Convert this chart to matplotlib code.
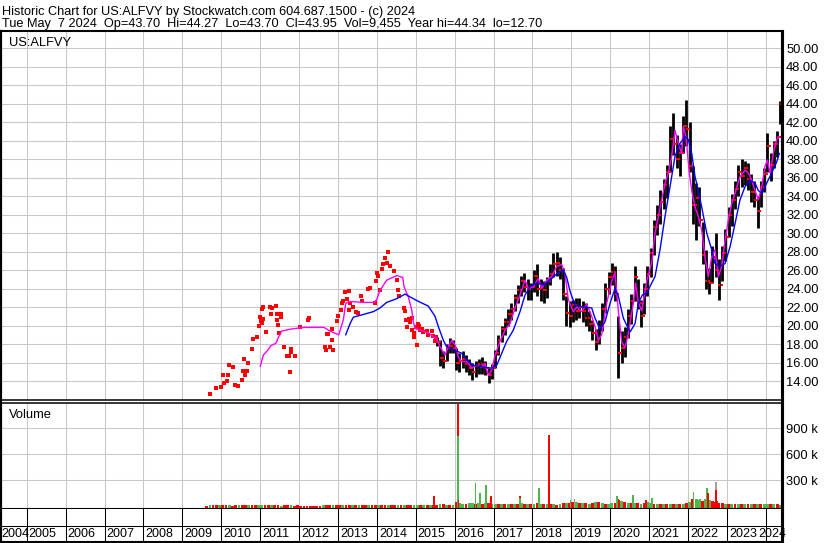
import numpy as np
import matplotlib.pyplot as plt
from matplotlib.lines import Line2D
from matplotlib import transforms

plt.rcParams['font.family'] = ['Liberation Sans', 'DejaVu Sans']

W, H = 830, 543

title_line = 'Historic Chart for US:ALFVY by Stockwatch.com 604.687.1500 - (c) 2024'
quote_line = 'Tue May  7 2024  Op=43.70  Hi=44.27  Lo=43.70  Cl=43.95  Vol=9,455  Year hi=44.34  lo=12.70'
symbol = 'US:ALFVY'

year_labels = ['2004', '2005', '2006', '2007', '2008', '2009', '2010', '2011', '2012', '2013', '2014',
               '2015', '2016', '2017', '2018', '2019', '2020', '2021', '2022', '2023', '2024']
year_lines = [2005, 2006, 2007, 2008, 2009, 2010, 2011, 2012, 2013, 2014,
              2015, 2016, 2017, 2018, 2019, 2020, 2021, 2022, 2023, 2024]
price_ticks = [14, 16, 18, 20, 22, 24, 26, 28, 30, 32, 34, 36, 38, 40, 42, 44, 46, 48, 50]
vol_ticks = [300000, 600000, 900000]
vol_tick_labels = ['300 k', '600 k', '900 k']

# thin trading before mid 2015: single prints (decimal year, price)
early_year = [2009.712, 2009.866, 2009.987, 2010.039, 2010.072, 2010.141, 2010.175, 2010.201, 2010.296, 2010.355,
              2010.432, 2010.527, 2010.553, 2010.578, 2010.612, 2010.656, 2010.681, 2010.800, 2010.810, 2010.913,
              2010.972, 2010.998, 2011.015, 2011.049, 2011.049, 2011.075, 2011.075, 2011.144, 2011.255, 2011.272,
              2011.306, 2011.409, 2011.434, 2011.434, 2011.452, 2011.486, 2011.530, 2011.540, 2011.614, 2011.699,
              2011.735, 2011.761, 2011.794, 2011.800, 2011.897, 2012.026, 2012.224, 2012.257, 2012.668, 2012.686,
              2012.712, 2012.745, 2012.797, 2012.848, 2012.856, 2012.874, 2012.977, 2012.995, 2013.072, 2013.098,
              2013.139, 2013.183, 2013.234, 2013.285, 2013.290, 2013.311, 2013.396, 2013.465, 2013.509, 2013.594,
              2013.627, 2013.781, 2013.817, 2013.954, 2013.987, 2013.997, 2014.023, 2014.075, 2014.141, 2014.167,
              2014.211, 2014.254, 2014.296, 2014.332, 2014.450, 2014.512, 2014.553, 2014.571, 2014.699, 2014.725,
              2014.758, 2014.784, 2014.828, 2014.853, 2014.892, 2014.913, 2014.956, 2014.964, 2015.008, 2015.033,
              2015.059, 2015.085, 2015.111, 2015.154, 2015.188, 2015.283, 2015.316, 2015.411, 2015.445, 2015.496,
              2015.522]
early_price = [12.6, 13.2, 13.4, 14.6, 13.8, 14.0, 14.7, 15.7, 15.5, 13.6,
               13.5, 14.1, 15.1, 16.4, 14.6, 15.1, 16.0, 17.5, 18.5, 18.8,
               20.0, 20.9, 20.5, 20.3, 21.8, 20.7, 22.0, 19.3, 22.0, 21.2,
               21.9, 22.1, 21.2, 20.6, 20.1, 19.2, 21.2, 20.9, 17.7, 16.7,
               16.7, 15.0, 17.5, 17.1, 16.7, 19.8, 20.6, 20.8, 17.7, 17.4,
               19.1, 19.1, 17.7, 18.4, 19.6, 17.4, 20.5, 21.0, 21.7, 22.4,
               22.7, 23.6, 22.9, 23.7, 21.7, 22.4, 22.0, 21.5, 21.4, 23.2,
               22.6, 23.9, 24.1, 22.4, 24.8, 25.7, 25.4, 23.8, 26.1, 26.6,
               27.3, 26.8, 28.0, 26.4, 25.9, 24.9, 23.8, 23.2, 21.9, 21.6,
               20.6, 19.8, 20.7, 20.4, 20.8, 19.5, 18.8, 19.2, 19.8, 17.9,
               20.2, 19.9, 19.5, 19.6, 19.3, 19.4, 19.0, 19.4, 18.9, 18.3,
               18.8]

# monthly ranges from Jul 2015
bar_start = (2015, 7)
bar_low = [17.8, 15.6, 15.4, 16.2, 17.0, 17.0,
           15.2, 15.0, 15.4, 15.0, 14.6, 14.1, 14.4, 14.8, 14.8, 14.6, 13.8, 14.2,
           15.4, 16.8, 18.2, 19.0, 20.0, 20.6, 21.6, 22.4, 23.2, 23.6, 22.8, 22.8,
           23.6, 23.2, 22.6, 22.4, 23.0, 24.4, 25.2, 25.4, 25.0, 22.8, 20.0, 19.8,
           20.4, 20.6, 20.8, 20.4, 20.0, 19.4, 18.4, 17.4, 18.0, 19.4, 21.4, 23.4,
           24.4, 22.6, 14.3, 16.0, 16.6, 18.6, 20.2, 22.6, 21.8, 19.8, 21.2, 23.2,
           25.2, 27.6, 29.8, 31.0, 32.6, 33.8, 36.6, 38.4, 37.0, 36.2, 38.6, 39.4,
           36.6, 31.0, 29.2, 30.8, 26.6, 24.0, 23.4, 24.6, 25.2, 22.8, 24.8, 27.0,
           29.6, 30.8, 32.6, 34.0, 35.0, 35.2, 34.6, 33.4, 32.8, 30.5, 32.8, 34.4,
           36.6, 35.6, 37.0, 38.2, 41.8]
bar_high = [18.8, 18.4, 17.2, 18.0, 18.6, 18.4,
            17.6, 17.0, 17.2, 16.8, 16.4, 16.0, 16.2, 16.4, 16.6, 16.2, 15.4, 15.8,
            17.4, 19.0, 20.0, 20.8, 21.8, 22.4, 23.4, 24.4, 25.4, 25.7, 25.0, 24.6,
            26.0, 26.6, 25.0, 24.8, 25.2, 26.6, 27.8, 28.0, 27.4, 26.2, 23.2, 22.6,
            22.8, 23.0, 23.0, 22.6, 22.4, 21.6, 20.6, 19.6, 20.6, 22.4, 24.6, 25.8,
            26.8, 26.4, 21.0, 19.4, 19.8, 21.8, 23.4, 26.4, 25.0, 22.8, 24.6, 26.4,
            28.4, 31.4, 33.0, 34.6, 35.8, 37.4, 41.6, 43.0, 40.6, 39.6, 42.6, 44.4,
            42.0, 37.2, 35.4, 35.0, 31.2, 28.2, 26.2, 28.6, 30.0, 27.2, 28.6, 30.4,
            32.8, 34.2, 35.6, 37.4, 38.0, 37.8, 37.6, 36.4, 35.6, 34.0, 35.6, 37.0,
            40.8, 38.6, 40.0, 41.0, 44.3]
bar_close = [18.2, 16.5, 16.2, 17.6, 17.8, 17.6,
             16.0, 16.2, 16.4, 15.8, 15.4, 15.0, 15.6, 15.8, 15.6, 15.4, 14.6, 15.4,
             17.0, 18.4, 19.6, 20.4, 21.2, 21.8, 23.0, 23.8, 24.8, 24.2, 24.0, 24.2,
             25.4, 24.0, 24.4, 23.8, 24.8, 25.6, 26.6, 26.8, 26.0, 23.4, 21.4, 21.0,
             22.2, 21.6, 22.0, 21.6, 20.8, 20.2, 19.2, 18.2, 19.8, 21.8, 24.0, 25.2,
             25.8, 23.4, 17.0, 17.6, 18.8, 21.0, 22.6, 25.2, 22.4, 21.0, 24.0, 25.6,
             27.8, 30.6, 32.0, 33.4, 35.2, 36.6, 40.2, 39.6, 38.0, 38.6, 41.6, 41.2,
             37.2, 33.0, 33.8, 31.4, 27.6, 24.8, 24.6, 27.4, 26.0, 24.4, 27.8, 29.6,
             32.0, 33.6, 34.8, 36.6, 36.2, 37.0, 35.8, 34.4, 33.6, 32.4, 35.0, 36.4,
             39.4, 37.4, 39.6, 40.4, 43.95]

# short moving average (magenta)
ma_short_year = [2011.005, 2011.082, 2011.211, 2011.272, 2011.409, 2011.478, 2011.555, 2011.769, 2011.941,
                 2012.136, 2012.643, 2012.797,
                 2013.021, 2013.139, 2013.201, 2013.311, 2013.653, 2013.928, 2013.997,
                 2014.082, 2014.254, 2014.512, 2014.666, 2014.699, 2014.810, 2014.897, 2014.938, 2014.982,
                 2015.111, 2015.324, 2015.453, 2015.540, 2015.625, 2015.669, 2015.753, 2015.838, 2015.925,
                 2016.010, 2016.095, 2016.183, 2016.311, 2016.440, 2016.568, 2016.697, 2016.782, 2016.866, 2016.954,
                 2017.039, 2017.167, 2017.296, 2017.424, 2017.553, 2017.681, 2017.810, 2017.895,
                 2018.023, 2018.152, 2018.239, 2018.368, 2018.496, 2018.625, 2018.753, 2018.838, 2018.923,
                 2019.051, 2019.139, 2019.267, 2019.396, 2019.524, 2019.609, 2019.694, 2019.781, 2019.910,
                 2020.039, 2020.123, 2020.208, 2020.296, 2020.380, 2020.465, 2020.594, 2020.650, 2020.728, 2020.810, 2020.938,
                 2021.067, 2021.152, 2021.237, 2021.324, 2021.409, 2021.494, 2021.581, 2021.666, 2021.751, 2021.838, 2021.879, 2021.949,
                 2022.033, 2022.095, 2022.180, 2022.265, 2022.352, 2022.437, 2022.522, 2022.609, 2022.694, 2022.779, 2022.866, 2022.951,
                 2023.036, 2023.123, 2023.208, 2023.337, 2023.465, 2023.550, 2023.638, 2023.722, 2023.807, 2023.895, 2023.979,
                 2024.039, 2024.108, 2024.211, 2024.280, 2024.347]
ma_short = [15.6, 16.8, 17.4, 17.8, 18.1, 18.8, 19.4, 19.6, 19.7,
            19.8, 19.8, 19.4,
            19.0, 20.6, 22.4, 22.6, 22.5, 22.5, 22.8,
            23.8, 24.9, 25.4, 25.2, 24.2, 23.1, 21.7, 20.4, 19.7,
            19.5, 19.2, 18.8, 18.6, 17.7, 17.4, 16.8, 17.7, 18.4,
            17.9, 16.6, 16.1, 16.1, 15.4, 15.7, 15.5, 15.9, 14.6, 15.2,
            16.8, 18.3, 19.5, 20.2, 21.9, 23.3, 24.9, 24.0,
            24.2, 25.1, 24.0, 24.9, 25.3, 26.4, 26.6, 25.6, 22.8,
            21.5, 22.0, 21.5, 22.3, 21.0, 19.9, 18.4, 19.0, 22.4,
            24.8, 25.7, 21.6, 18.2, 17.6, 19.1, 22.4, 24.6, 22.4, 21.6, 24.8,
            26.8, 30.0, 31.8, 33.6, 35.4, 36.5, 38.3, 41.1, 39.7, 38.6, 41.5, 40.4,
            36.5, 34.6, 32.8, 31.8, 30.3, 27.4, 25.3, 27.4, 28.2, 25.3, 26.4, 29.2,
            31.4, 33.2, 34.3, 36.1, 36.8, 36.5, 35.7, 34.6, 33.6, 35.0, 37.2,
            37.9, 36.5, 39.0, 40.1, 40.4]

# long moving average (blue)
ma_long_year = [2013.201, 2013.311, 2013.396, 2013.568, 2013.910,
                2014.082, 2014.254, 2014.512, 2014.725, 2014.853,
                2015.026, 2015.324, 2015.496, 2015.581, 2015.710, 2015.797, 2015.967,
                2016.183, 2016.311, 2016.481, 2016.738, 2016.954,
                2017.082, 2017.211, 2017.339, 2017.509, 2017.681, 2017.810, 2017.938,
                2018.111, 2018.280, 2018.452, 2018.625, 2018.795, 2018.882, 2018.967,
                2019.095, 2019.309, 2019.524, 2019.609, 2019.738, 2019.866, 2019.995,
                2020.123, 2020.208, 2020.337, 2020.509, 2020.638, 2020.722, 2020.825, 2020.938,
                2021.067, 2021.152, 2021.280, 2021.409, 2021.537, 2021.666, 2021.794, 2021.923,
                2022.008, 2022.095, 2022.180, 2022.265, 2022.352, 2022.481, 2022.609, 2022.694, 2022.822, 2022.951,
                2023.080, 2023.208, 2023.337, 2023.465, 2023.594, 2023.722, 2023.807, 2023.895,
                2024.023, 2024.152, 2024.280, 2024.347]
ma_long = [19.0, 20.2, 20.9, 21.1, 21.5,
           21.9, 22.5, 22.9, 23.4, 23.1,
           22.7, 22.1, 21.0, 19.9, 18.4, 17.7, 17.4,
           17.0, 16.3, 15.7, 15.5, 15.4,
           15.7, 17.0, 18.3, 19.5, 21.5, 23.3, 24.2,
           24.6, 24.4, 24.9, 25.6, 26.0, 25.2, 23.7,
           22.2, 22.0, 21.9, 20.8, 19.6, 20.4, 22.4,
           24.0, 23.2, 20.8, 19.3, 20.2, 22.4, 23.3, 23.5,
           24.6, 25.3, 28.2, 31.8, 35.0, 38.3, 39.7, 40.4,
           40.1, 38.6, 36.1, 34.6, 32.8, 30.0, 28.2, 26.7, 26.4, 26.7,
           28.5, 31.0, 33.6, 35.0, 35.7, 35.4, 34.6, 34.3,
           35.4, 36.5, 37.7, 38.6]

# volume, thousands of shares per month (g = up, r = down)
vol_early_start = (2009, 8)
vol_early_k = [8, 12, 10, 14, 10,
               12, 10, 15, 8, 12, 14, 10, 12, 16, 14, 12, 10,
               14, 12, 10, 15, 12, 10, 8, 12, 10, 14, 8, 10,
               0, 0, 0, 0, 0, 0, 0, 14, 12, 10, 15, 12,
               14, 16, 12, 15, 10, 12, 14, 10, 12, 16, 14, 10,
               12, 15, 10, 14, 12, 16, 10, 12, 14, 10, 12, 15]
vol_early_dir = 'rgrrg' + 'rrgrrgrrgrrg' + 'grrgrrgrrgrr' + 'rrrrrrrgrrgr' + 'rgrrgrgrrgrr' + 'grrgrrgrgrrg'

vol_start = (2015, 1)
vol_k = [12, 15, 10, 18, 14, 20, 16, 22, 25, 18, 14, 20,
         45, 35, 30, 28, 40, 38, 30, 36, 32, 40, 35, 30,
         25, 28, 30, 22, 26, 24, 30, 28, 35, 30, 26, 22,
         30, 35, 28, 25, 32, 30, 22, 18, 28, 35, 40, 38,
         45, 50, 40, 35, 38, 30, 42, 48, 50, 38, 30, 28,
         35, 40, 70, 65, 45, 40, 38, 42, 35, 30, 40, 45,
         35, 30, 28, 25, 22, 30, 28, 25, 30, 22, 26, 35,
         50, 80, 90, 70, 60, 85, 75, 60, 55, 40, 35, 30,
         30, 25, 28, 32, 26, 30, 22, 28, 25, 30, 26, 24,
         28, 22, 30, 25, 18]
vol_dir = ('grgrgrrgrgrg' + 'rggrggrgrgrg' + 'grgrgrgrgrgr' + 'grgrgrgrgrgr' + 'rgrgrgrgrgrg'
           + 'grrgrgrgrgrg' + 'grgrgrgrgrgr' + 'grggrggrrrrg' + 'rgrgrgrgrgrg' + 'grgrg')

# single heavy days (decimal year, thousands, direction; n = unchanged)
spike_year = [2015.47, 2016.08, 2016.08, 2016.10, 2016.54, 2016.65, 2016.81, 2016.93, 2017.68, 2017.68,
              2018.17, 2018.42, 2018.98, 2019.08, 2020.17, 2020.21, 2020.58, 2020.92, 2021.07,
              2022.14, 2022.30, 2022.48, 2022.52, 2022.71, 2022.71, 2022.75]
spike_k = [119, 1180, 811, 72, 265, 157, 246, 119, 119, 92,
           207, 823, 72, 81, 119, 81, 130, 72, 96,
           168, 81, 207, 157, 277, 188, 61]
spike_dir = 'rrgrgggrrg' + 'grgngrgrg' + 'gggrnr'

XMIN, XMAX = 2004.339, 2024.416
VOL_FLOOR = -31000
colors = {'g': '#4cb84c', 'r': '#ff0000', 'n': '#a0a0a0'}


def month_pos(start, n):
    return start[0] + (start[1] - 1 + np.arange(n) + 0.5) / 12


def rect(x0, y0, x1, y1):
    return [x0 / W, 1 - y1 / H, (x1 - x0) / W, (y1 - y0) / H]


def vol_bars(axis, x, k, dirs, width):
    # bars stand on the panel floor like the original chart
    v = np.array(k) * 1000.0
    axis.bar(x, v - VOL_FLOOR, width=width, bottom=VOL_FLOOR,
             color=[colors[c] for c in dirs], lw=0)


fig = plt.figure(figsize=(W / 100, H / 100), dpi=100)
ax = fig.add_axes(rect(1, 31, 782, 400))
axv = fig.add_axes(rect(1, 402.5, 782, 509), sharex=ax)
axy = fig.add_axes(rect(1, 509, 782, 541.5), sharex=ax)

# price panel
bx = month_pos(bar_start, len(bar_low))
ax.vlines(bx, bar_low, bar_high, color='black', lw=2.0, zorder=2)
bar_open = np.r_[bar_close[0], bar_close[:-1]]
ax.plot(bx + 0.013, bar_close, 's', color='red', ms=2.0, mew=0, zorder=3)
ax.plot(bx - 0.013, bar_open, 's', color='red', ms=2.0, mew=0, zorder=3)
ax.plot(early_year, early_price, 's', color='red', ms=2.4, mew=0, ls='none', zorder=3)
ax.plot(ma_short_year, ma_short, color='#ff00ff', lw=1.0, zorder=4)
ax.plot(ma_long_year, ma_long, color='#0000ff', lw=1.0, zorder=4)
ax.set_ylim(11.95, 51.84)
ax.yaxis.tick_right()
ax.set_yticks(price_ticks)
ax.set_yticklabels(['%.2f' % p for p in price_ticks])

# volume panel
vol_bars(axv, month_pos(vol_early_start, len(vol_early_k)), vol_early_k, vol_early_dir, 0.07)
vol_bars(axv, month_pos(vol_start, len(vol_k)), vol_k, vol_dir, 0.075)
vol_bars(axv, spike_year, spike_k, spike_dir, 0.045)
axv.set_ylim(VOL_FLOOR, 1198000)
axv.yaxis.tick_right()
axv.set_yticks(vol_ticks)
axv.set_yticklabels(vol_tick_labels)

for a in (ax, axv):
    a.grid(True, color='#c8c8c8', lw=0.75)
    a.set_axisbelow(True)
    a.tick_params(axis='y', length=0, pad=3, labelsize=9.3)
for a in (ax, axv, axy):
    a.set_xlim(XMIN, XMAX)
    a.set_xticks(year_lines)
    a.tick_params(axis='x', length=0, labelbottom=False)
    a.spines['left'].set_linewidth(1.5)
    a.spines['right'].set_linewidth(2.2)

ax.spines['top'].set_linewidth(1.5)
ax.spines['bottom'].set_linewidth(1.1)
axv.spines['top'].set_linewidth(1.1)
axv.spines['bottom'].set_linewidth(1.5)
axy.spines['top'].set_visible(False)
axy.spines['bottom'].set_linewidth(1.5)

# date rows
axy.set_ylim(0, 1)
axy.set_yticks([])
axy.grid(axis='x', color='black', lw=0.75)
axy.axhline((541.5 - 526) / 32.5, color='black', lw=0.75)
base = transforms.blended_transform_factory(axy.transData, axy.transAxes)
for lab in year_labels:
    yr = int(lab)
    if lab == year_labels[-1]:
        t = transforms.offset_copy(base, fig=fig, x=4, y=0, units='dots')
        axy.text(XMAX, 0.23, lab, transform=t, ha='right', va='center', fontsize=9.0, clip_on=False)
    else:
        t = transforms.offset_copy(base, fig=fig, x=2.0 if yr > XMIN else 0.5, y=0, units='dots')
        axy.text(max(yr, XMIN), 0.23, lab, transform=t, ha='left', va='center', fontsize=9.0)

# frame lines that run across panel gaps
fig.add_artist(Line2D([782 / W, 782 / W], [1 - 31 / H, 0], color='black', lw=2.2))
fig.add_artist(Line2D([1 / W, 1 / W], [1 - 31 / H, 1 - 541.5 / H], color='black', lw=1.5))

fig.text(2 / W, 1 - 15 / H, title_line, fontsize=9.2, va='baseline')
fig.text(2 / W, 1 - 27.5 / H, quote_line, fontsize=9.2, va='baseline')
fig.text(9 / W, 1 - 46 / H, symbol, fontsize=9.3, va='baseline')
fig.text(9 / W, 1 - 418 / H, 'Volume', fontsize=9.3, va='baseline')

fig.savefig('out.png', dpi=100)
